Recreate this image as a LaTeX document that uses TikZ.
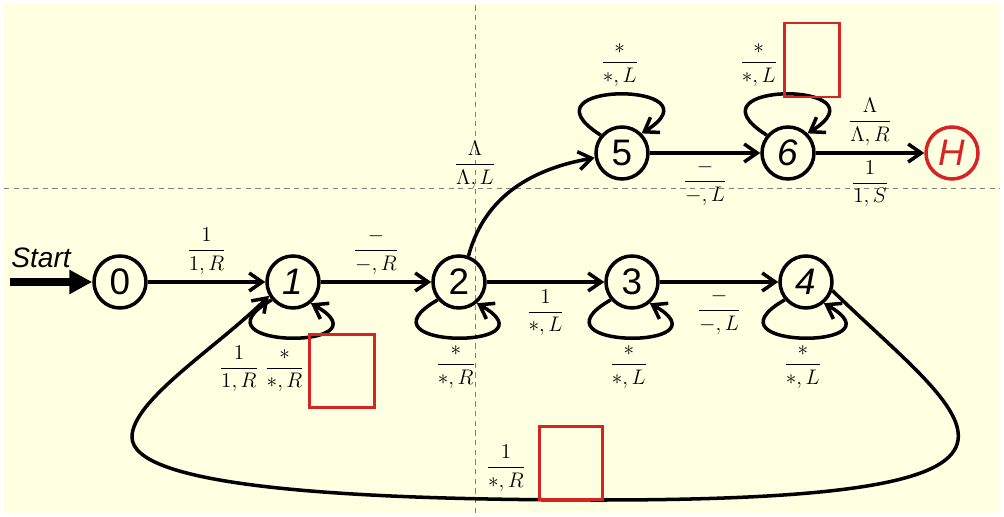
\documentclass[tikz,border=0pt]{standalone}
\usepackage{amsmath,amssymb}
\usepackage{xcolor}
\usepackage{fontspec}
\setsansfont{Liberation Sans}
\usepackage{tikz}
\usetikzlibrary{arrows.meta, positioning}

\definecolor{paper}{HTML}{FFFFE1}
\definecolor{haltred}{HTML}{D62424}

\begin{document}
\begin{tikzpicture}[
  x=0.02cm, y=0.02cm,
  state/.style={circle, draw, line width=2pt, minimum size=1.04cm, inner sep=0pt,
    font=\sffamily\fontsize{21}{23}\selectfont},
  halt/.style={state, draw=haltred, text=haltred},
  arrow/.style={-{Straight Barb[length=2.6mm, width=3.6mm]}, line width=2pt},
  lbl/.style={font=\fontsize{12.5}{15}\selectfont},
  redbox/.style={draw=haltred, line width=1.3pt, minimum width=1.26cm,
    minimum height=1.46cm, inner sep=0pt},
  guide/.style={gray, line width=0.5pt, dash pattern=on 3pt off 2.5pt},
  loopbelow/.style={to path={.. controls +(-87,-50) and +(83,-47) .. (\tikztotarget) \tikztonodes}},
  loopabove/.style={to path={.. controls +(-87,55) and +(83,52) .. (\tikztotarget) \tikztonodes}}
]
  \useasboundingbox (0,0) rectangle (1004,517);
  \fill[paper] (4,4) rectangle (1000,513);
  \draw[guide] (475,4) -- (475,513);
  \draw[guide] (4,329) -- (1000,329);

  % states
  \node[state] (q0) at (120,235) {0};
  \node[state] (q1) at (293,235) {\itshape 1};
  \node[state] (q2) at (459,235) {2};
  \node[state] (q3) at (632,235) {3};
  \node[state] (q4) at (806,235) {\itshape 4};
  \node[state] (q5) at (622,364) {5};
  \node[state] (q6) at (788,364) {\itshape 6};
  \node[halt] (h) at (952,364) {\itshape H};

  % start
  \coordinate (s) at (10,235);
  \node[font=\sffamily\itshape\fontsize{16}{18}\selectfont, anchor=south west, inner sep=0pt] (st) at (11,249) {Start};
  \draw[line width=4.5pt, -{Triangle[length=4.6mm, width=4.6mm]}] (s) -- (q0);

  % transitions
  \draw[arrow] (q0) -- node[lbl, above] {$\dfrac{1}{1,R}$} (q1);
  \draw[arrow] (q1) -- node[lbl, above] {$\dfrac{-}{-,R}$} (q2);
  \draw[arrow] (q2) -- node[lbl, below] {$\dfrac{1}{*,L}$} (q3);
  \draw[arrow] (q3) -- node[lbl, below] {$\dfrac{-}{-,L}$} (q4);
  \draw[arrow] (q5) -- node[lbl, below] {$\dfrac{-}{-,L}$} (q6);
  \draw[arrow] (q6) -- node[lbl, above] {$\dfrac{\Lambda}{\Lambda,R}$}
    node[lbl, below] {$\dfrac{1}{1,S}$} (h);
  \draw[arrow] (q2.70) to[out=75, in=190] (q5);
  \node[lbl] (l25) at (475,352) {$\dfrac{\Lambda}{\Lambda,L}$};

  % loops
  \draw[arrow] (q1.-140) to[loopbelow] node[lbl, below, xshift=-0.56cm] {$\dfrac{1}{1,R}\;\dfrac{*}{*,R}$} (q1.-50);
  \draw[arrow] (q2.-140) to[loopbelow] node[lbl, below] {$\dfrac{*}{*,R}$} (q2.-50);
  \draw[arrow] (q3.-140) to[loopbelow] node[lbl, below] {$\dfrac{*}{*,L}$} (q3.-50);
  \draw[arrow] (q4.-140) to[loopbelow] node[lbl, below] {$\dfrac{*}{*,L}$} (q4.-50);
  \draw[arrow] (q5.140) to[loopabove] node[lbl, above] {$\dfrac{*}{*,L}$} (q5.45);
  \draw[arrow] (q6.140) to[loopabove] node[lbl, above, xshift=-0.54cm] {$\dfrac{*}{*,L}$} (q6.45);

  % back from 4 to 1
  \draw[arrow] (q4.-18) .. controls (965,97) and (1110,17) .. (600,17)
    .. controls (330,17) and (132,32) .. (132,80)
    .. controls (132,117) and (219,171) .. (q1.-150);
  \node[lbl] (l41) at (506,49) {$\dfrac{1}{*,R}$};

  % red boxes
  \node[redbox, minimum width=1.3cm] (b1) at (342,146) {};
  \node[redbox, minimum width=1.1cm, minimum height=1.48cm] (b2) at (812,457) {};
  \node[redbox] (b3) at (571,54) {};
\end{tikzpicture}
\end{document}
